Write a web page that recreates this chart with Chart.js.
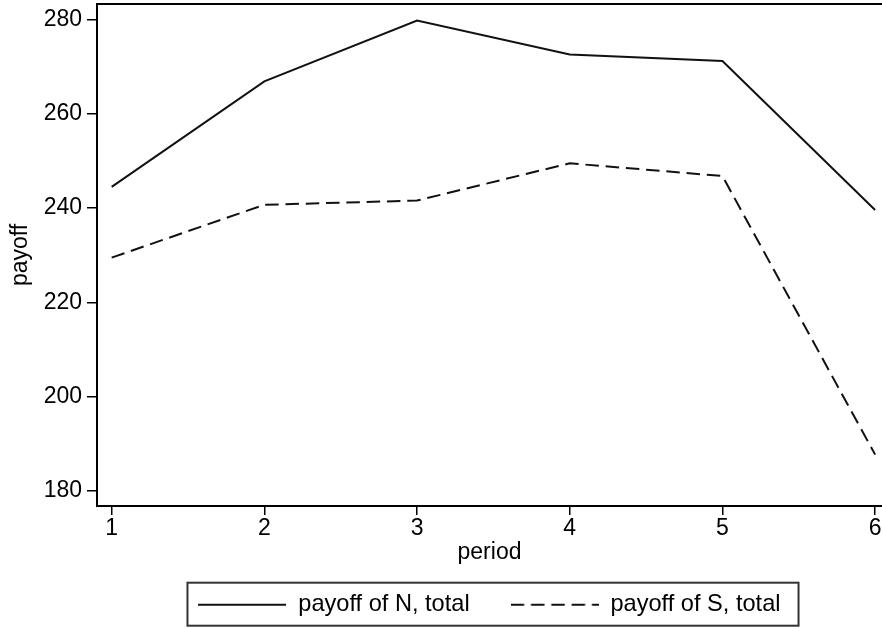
<!DOCTYPE html>
<html>
<head>
<meta charset="utf-8">
<script src="https://cdn.jsdelivr.net/npm/chart.js@4/dist/chart.umd.min.js"></script>
<style>
  html, body { margin: 0; padding: 0; background: #fff; }
  #wrap { width: 882px; height: 629px; position: relative; }
</style>
</head>
<body>
<div id="wrap"><canvas id="payoffChart"></canvas></div>
<script>
const periods = [1, 2, 3, 4, 5, 6];
const payoffN = [244.5, 266.9, 279.8, 272.6, 271.2, 239.6];
const payoffS = [229.5, 240.7, 241.6, 249.5, 246.8, 187.7];
const yTicks = [180, 200, 220, 240, 260, 280];
const xTicks = [1, 2, 3, 4, 5, 6];

const LINE_DASH = [13.5, 6.8];
const SAMPLE_W = 88;

Chart.defaults.font.family = '"Liberation Sans", Arial, sans-serif';
Chart.defaults.font.size = 23;
Chart.defaults.color = "#000";

// small canvas with a line sample, used as legend point style
function lineSample(color, width, dash) {
  const c = document.createElement("canvas");
  c.width = SAMPLE_W;
  c.height = 4;
  const g = c.getContext("2d");
  g.strokeStyle = color;
  g.lineWidth = width;
  g.setLineDash(dash || []);
  g.beginPath();
  g.moveTo(0, 2);
  g.lineTo(SAMPLE_W, 2);
  g.stroke();
  return c;
}

// frame line on top of plot + box round the legend
const framePlugin = {
  id: "frame",
  afterDraw(chart) {
    const { ctx, chartArea } = chart;
    ctx.save();
    ctx.strokeStyle = "#000";
    ctx.lineWidth = 2;
    ctx.beginPath();
    ctx.moveTo(chartArea.left - 1, chartArea.top);
    ctx.lineTo(chartArea.right, chartArea.top);
    ctx.stroke();

    const boxes = chart.legend?.legendHitBoxes || [];
    if (boxes.length) {
      const first = boxes[0];
      const last = boxes[boxes.length - 1];
      const midY = first.top + first.height / 2;
      const left = first.left - 11;
      const right = last.left + last.width + 18;
      ctx.strokeStyle = "#333";
      ctx.lineWidth = 2;
      ctx.strokeRect(left, midY - 22, right - left, 43);
    }
    ctx.restore();
  },
};

const ctx = document.getElementById("payoffChart").getContext("2d");
new Chart(ctx, {
  type: "line",
  data: {
    datasets: [
      {
        label: "payoff of N, total",
        data: periods.map((p, i) => ({ x: p, y: payoffN[i] })),
        borderColor: "#111",
        borderWidth: 2,
        pointRadius: 0,
        tension: 0,
      },
      {
        label: "payoff of S, total",
        data: periods.map((p, i) => ({ x: p, y: payoffS[i] })),
        borderColor: "#111",
        borderWidth: 2,
        borderDash: LINE_DASH,
        pointRadius: 0,
        tension: 0,
      },
    ],
  },
  options: {
    responsive: true,
    maintainAspectRatio: false,
    animation: false,
    layout: { padding: { top: 4, right: 0, bottom: 2.5, left: 0 } },
    plugins: {
      tooltip: { enabled: false },
      legend: {
        position: "bottom",
        fullSize: false,
        labels: {
          usePointStyle: true,
          pointStyleWidth: SAMPLE_W,
          padding: 41,
          color: "#000",
          font: { size: 23.6 },
          generateLabels: (chart) =>
            chart.data.datasets.map((ds, i) => ({
              text: ds.label,
              datasetIndex: i,
              hidden: !chart.isDatasetVisible(i),
              lineWidth: 0,
              strokeStyle: ds.borderColor,
              fillStyle: ds.borderColor,
              fontColor: "#000",
              pointStyle: lineSample(ds.borderColor, ds.borderWidth, ds.borderDash),
            })),
        },
      },
    },
    scales: {
      x: {
        type: "linear",
        min: 0.904,
        max: 6.045,
        afterBuildTicks: (scale) => {
          scale.ticks = xTicks.map((v) => ({ value: v }));
        },
        afterFit: (scale) => {
          scale.height = 45.9;
        },
        ticks: { padding: 0, color: "#000" },
        grid: {
          drawOnChartArea: false,
          drawTicks: true,
          tickLength: 9,
          color: "#000",
          lineWidth: 1.5,
        },
        border: { display: true, color: "#000", width: 2 },
        title: {
          display: true,
          text: "period",
          color: "#000",
          padding: { top: 0, bottom: -14.9 },
        },
      },
      y: {
        type: "linear",
        min: 176.8,
        max: 283.3,
        afterBuildTicks: (scale) => {
          scale.ticks = yTicks.map((v) => ({ value: v }));
        },
        afterFit: (scale) => {
          scale.width = 97;
          scale.paddingTop = 0;
          scale.paddingBottom = 0;
        },
        ticks: { padding: 5, color: "#000" },
        grid: {
          drawOnChartArea: false,
          drawTicks: true,
          tickLength: 10,
          color: "#000",
          lineWidth: 1.5,
        },
        border: { display: true, color: "#000", width: 2 },
        title: {
          display: true,
          text: "payoff",
          color: "#000",
          padding: { top: 7, bottom: 0 },
        },
      },
    },
  },
  plugins: [framePlugin],
});
</script>
</body>
</html>
